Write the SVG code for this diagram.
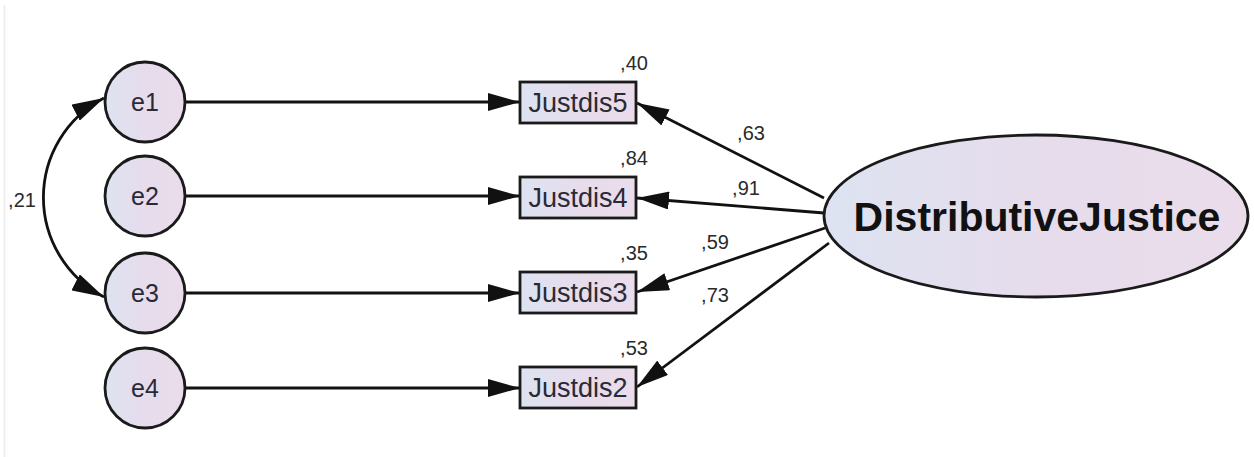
<svg xmlns="http://www.w3.org/2000/svg" width="1254" height="457" viewBox="0 0 1254 457">
<defs>
<linearGradient id="fillg" x1="0" y1="0" x2="1" y2="0">
<stop offset="0" stop-color="#dde3f1"/>
<stop offset="0.5" stop-color="#e6dcec"/>
<stop offset="1" stop-color="#ebdcea"/>
</linearGradient>
<marker id="arr" viewBox="0 0 32 18" refX="32" refY="9" markerWidth="32" markerHeight="18" markerUnits="userSpaceOnUse" orient="auto-start-reverse">
<path d="M0,0 L32,9 L0,18 Z" fill="#111"/>
</marker>
<style>
.node{fill:url(#fillg);stroke:#1a1a1a;stroke-width:2.8}
.lbl{font-family:"Liberation Sans",Arial,sans-serif;fill:#2a2a35;text-anchor:middle}
.big{font-family:"Liberation Sans",Arial,sans-serif;font-weight:bold;fill:#111;text-anchor:middle;font-size:41px}
.num{font-family:"Liberation Sans",Arial,sans-serif;fill:#2a2a2a;text-anchor:middle;font-size:20px}
.conn{fill:none;stroke:#111;stroke-width:2.8}
</style>
</defs>
<rect width="1254" height="457" fill="#fff"/>
<line x1="4.5" y1="5" x2="4.5" y2="457" stroke="#ececec" stroke-width="1.5"/>
<g id="connectors">
<line class="conn" x1="186" y1="102" x2="520" y2="102" marker-end="url(#arr)"/>
<line class="conn" x1="186" y1="196" x2="520" y2="196" marker-end="url(#arr)"/>
<line class="conn" x1="186" y1="293" x2="520" y2="293" marker-end="url(#arr)"/>
<line class="conn" x1="186" y1="388" x2="520" y2="388" marker-end="url(#arr)"/>
<line class="conn" x1="824" y1="198" x2="637" y2="103" marker-end="url(#arr)"/>
<line class="conn" x1="824" y1="213" x2="637" y2="198" marker-end="url(#arr)"/>
<line class="conn" x1="825" y1="228" x2="637" y2="292" marker-end="url(#arr)"/>
<line class="conn" x1="829" y1="243" x2="637" y2="387" marker-end="url(#arr)"/>
<path class="conn" d="M104,98 A112,112 0 0 0 104,297" marker-start="url(#arr)" marker-end="url(#arr)"/>
<text class="num" x="22" y="207">,21</text>
<text class="num" x="751" y="140">,63</text>
<text class="num" x="746" y="195">,91</text>
<text class="num" x="715" y="249">,59</text>
<text class="num" x="715" y="302">,73</text>
</g>
<g id="e1"><circle class="node" cx="145" cy="102" r="40"/><text class="lbl" x="145" y="111" font-size="25">e1</text></g>
<g id="e2"><circle class="node" cx="145" cy="196" r="40"/><text class="lbl" x="145" y="205" font-size="25">e2</text></g>
<g id="e3"><circle class="node" cx="145" cy="293" r="40"/><text class="lbl" x="145" y="302" font-size="25">e3</text></g>
<g id="e4"><circle class="node" cx="145" cy="388" r="40"/><text class="lbl" x="145" y="397" font-size="25">e4</text></g>
<g id="Justdis5"><rect class="node" x="520" y="82" width="116" height="41"/><text class="lbl" x="578" y="112" font-size="27">Justdis5</text><text class="num" x="634" y="70">,40</text></g>
<g id="Justdis4"><rect class="node" x="520" y="177" width="116" height="41"/><text class="lbl" x="578" y="207" font-size="27">Justdis4</text><text class="num" x="634" y="165">,84</text></g>
<g id="Justdis3"><rect class="node" x="520" y="272" width="116" height="41"/><text class="lbl" x="578" y="302" font-size="27">Justdis3</text><text class="num" x="634" y="260">,35</text></g>
<g id="Justdis2"><rect class="node" x="520" y="367" width="116" height="41"/><text class="lbl" x="578" y="397" font-size="27">Justdis2</text><text class="num" x="634" y="355">,53</text></g>
<g id="DistributiveJustice"><ellipse class="node" cx="1036" cy="216" rx="212" ry="81"/><text class="big" x="1037" y="231">DistributiveJustice</text></g>
</svg>
